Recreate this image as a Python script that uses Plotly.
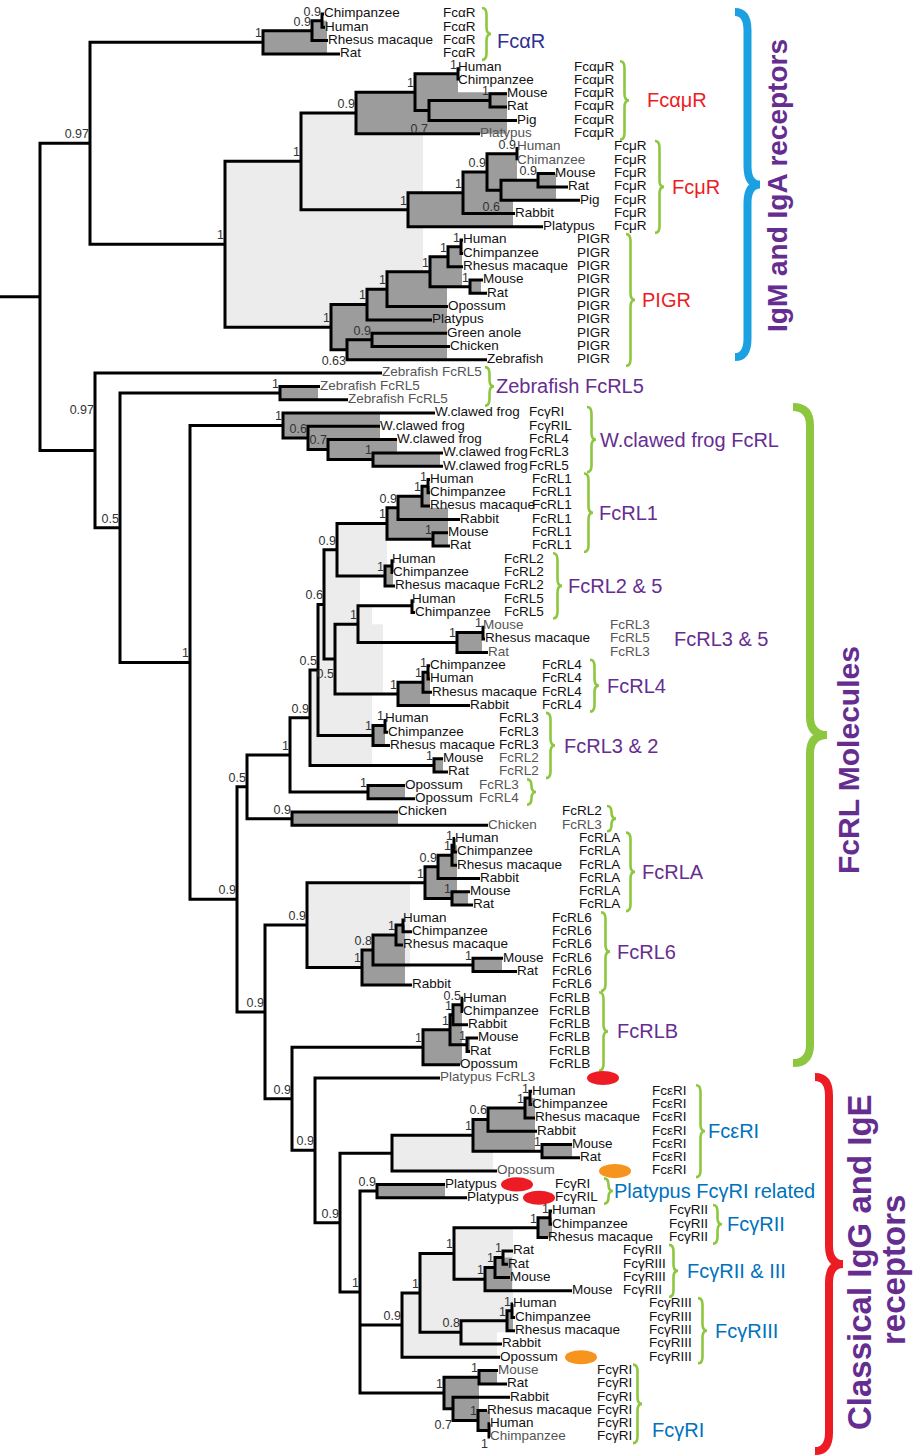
import plotly.graph_objects as go

# ---------------- DATA ----------------
leaf_species = [
    "Chimpanzee", "Human", "Rhesus macaque", "Rat",
    "Human", "Chimpanzee", "Mouse", "Rat", "Pig", "Platypus",
    "Human", "Chimanzee", "Mouse", "Rat", "Pig", "Rabbit", "Platypus",
    "Human", "Chimpanzee", "Rhesus macaque", "Mouse", "Rat", "Opossum", "Platypus", "Green anole", "Chicken", "Zebrafish",
    "Zebrafish FcRL5", "Zebrafish FcRL5", "Zebrafish FcRL5",
    "W.clawed frog", "W.clawed frog", "W.clawed frog", "W.clawed frog", "W.clawed frog",
    "Human", "Chimpanzee", "Rhesus macaque", "Rabbit", "Mouse", "Rat",
    "Human", "Chimpanzee", "Rhesus macaque", "Human", "Chimpanzee",
    "Mouse", "Rhesus macaque", "Rat",
    "Chimpanzee", "Human", "Rhesus macaque", "Rabbit",
    "Human", "Chimpanzee", "Rhesus macaque", "Mouse", "Rat",
    "Opossum", "Opossum",
    "Chicken", "Chicken",
    "Human", "Chimpanzee", "Rhesus macaque", "Rabbit", "Mouse", "Rat",
    "Human", "Chimpanzee", "Rhesus macaque", "Mouse", "Rat", "Rabbit",
    "Human", "Chimpanzee", "Rabbit", "Mouse", "Rat", "Opossum",
    "Platypus FcRL3",
    "Human", "Chimpanzee", "Rhesus macaque", "Rabbit", "Mouse", "Rat", "Opossum",
    "Platypus", "Platypus",
    "Human", "Chimpanzee", "Rhesus macaque",
    "Rat", "Rat", "Mouse", "Mouse",
    "Human", "Chimpanzee", "Rhesus macaque", "Rabbit", "Opossum",
    "Mouse", "Rat", "Rabbit", "Rhesus macaque", "Human", "Chimpanzee",
]
leaf_gene = (
    ["FcαR"] * 4 + ["FcαμR"] * 6 + ["FcμR"] * 7 + ["PIGR"] * 10 + [""] * 3 +
    ["FcγRI", "FcγRIL", "FcRL4", "FcRL3", "FcRL5"] + ["FcRL1"] * 6 +
    ["FcRL2"] * 3 + ["FcRL5"] * 2 + ["FcRL3", "FcRL5", "FcRL3"] + ["FcRL4"] * 4 +
    ["FcRL3"] * 3 + ["FcRL2"] * 2 + ["FcRL3", "FcRL4"] + ["FcRL2", "FcRL3"] +
    ["FcRLA"] * 6 + ["FcRL6"] * 6 + ["FcRLB"] * 6 + [""] + ["FcεRI"] * 7 +
    ["FcγRI", "FcγRIL"] + ["FcγRII"] * 3 + ["FcγRII", "FcγRIII", "FcγRIII", "FcγRII"] +
    ["FcγRIII"] * 5 + ["FcγRI"] * 6
)
# tip depth of each leaf (branch end)
leaf_tip = [
    324, 325, 328, 340,
    458, 458, 507, 507, 517, 480,
    517, 517, 555, 568, 580, 515, 543,
    463, 463, 463, 483, 487, 448, 432, 447, 450, 487,
    382, 320, 348,
    435, 380, 397, 443, 443,
    430, 430, 430, 460, 448, 450,
    392, 393, 395, 412, 415,
    483, 485, 488,
    430, 430, 432, 470,
    385, 388, 390, 443, 448,
    405, 415,
    398, 488,
    455, 457, 457, 480, 470, 473,
    403, 412, 403, 503, 517, 412,
    463, 463, 468, 478, 470, 460,
    440,
    532, 532, 535, 537, 572, 580, 497,
    445, 467,
    552, 552, 548,
    513, 508, 510, 572,
    513, 515, 515, 502, 500,
    498, 507, 510, 487, 490, 490,
]
leaf_parent = [
    "a3", "a3", "a2", "a1",
    "c3", "c3", "c5", "c5", "c4", "c1",
    "d4", "d4", "d6", "d6", "d5", "d2", "d1",
    "p7", "p7", "p5", "p6", "p6", "p3", "p2", "p9", "p9", "p8",
    "L", "z1", "z1",
    "w1", "w2", "w3", "w4", "w4",
    "f4", "f4", "f3", "f2", "f5", "f5",
    "q2", "q2", "q1", "q3", "q3",
    "r2", "r2", "r1",
    "s3", "s3", "s2", "s1",
    "t2", "t2", "t1", "t3", "t3",
    "o1", "o1",
    "k1", "k1",
    "m3", "m3", "m2", "m1", "m4", "m4",
    "e3", "e3", "e2", "e4", "e4", "e1",
    "g4", "g4", "g3", "g5", "g5", "g1",
    "S3",
    "h3", "h3", "h2", "h1", "h4", "h4", "hx",
    "pp", "pp",
    "j2", "j2", "j1",
    "i3", "i3", "i2", "i1",
    "l3", "l3", "l2", "l1", "l00",
    "x1", "x1", "x3", "x4", "x5", "x5",
]

node_name = ["R", "U", "a1", "a2", "a3", "b1", "b2", "c1", "c2", "c3", "c4", "c5",
             "d1", "d2", "d3", "d4", "d5", "d6",
             "p1", "p2", "p3", "p4", "p5", "p7", "p6", "p8", "p9",
             "L", "M", "z1", "N", "w1", "w2", "w3", "w4",
             "P", "v1", "u1", "H", "G", "I", "J", "f1", "f2", "f3", "f4", "f5",
             "q1", "q2", "K", "q4", "q3", "r1", "r2", "s1", "s2", "s3",
             "t1", "t2", "t3", "o1", "k1",
             "S", "n1", "m0", "m1", "m2", "m3", "m4", "e1", "e1b", "e2", "e3", "e4",
             "S2", "g1", "g2", "g3", "g4", "g5",
             "S3", "S4", "hx", "h0", "h1", "h2", "h3", "h4",
             "S5", "pp", "l00", "l0", "jj", "j1", "j2", "i1", "i2", "i3",
             "l1", "l2", "l3", "x2", "x1", "x3", "x4", "x5"]
node_parent = ["", "R", "U", "a1", "a2", "U", "b1", "b2", "c1", "c2", "c2", "c4",
               "b2", "d1", "d2", "d3", "d3", "d5",
               "b1", "p1", "p2", "p3", "p4", "p5", "p4", "p1", "p8",
               "R", "L", "M", "M", "N", "w1", "w2", "w3",
               "N", "P", "v1", "u1", "H", "G", "I", "J", "f1", "f2", "f3", "f1",
               "J", "q1", "I", "K", "q4", "q4", "r1", "K", "s1", "s2",
               "G", "t1", "H", "u1", "v1",
               "P", "S", "n1", "m0", "m1", "m2", "m0", "n1", "e1", "e1b", "e2", "e1b",
               "S", "S2", "g1", "g2", "g3", "g2",
               "S2", "S3", "S4", "hx", "h0", "h1", "h2", "h0",
               "S4", "S5", "S5", "l00", "l0", "jj", "j1", "jj", "i1", "i2",
               "l0", "l1", "l2", "S5", "x2", "x2", "x3", "x4"]
node_x = [40, 90, 263, 312, 322, 225, 301, 356, 415, 458, 429, 490,
          408, 463, 487, 517, 501, 538,
          331, 367, 387, 430, 448, 461, 470, 347, 372,
          95, 120, 280, 190, 283, 308, 328, 373,
          237, 247, 290, 310, 318, 324, 337, 387, 398, 422, 428, 433,
          385, 392, 335, 358, 412, 457, 483, 398, 423, 428,
          373, 385, 434, 368, 292,
          265, 307, 425, 438, 452, 454, 452, 362, 373, 396, 403, 473,
          292, 423, 450, 453, 462, 467,
          315, 340, 392, 473, 488, 525, 530, 542,
          360, 377, 402, 420, 454, 538, 550, 485, 495, 503,
          461, 507, 512, 444, 479, 453, 478, 489]
node_support = ["", "0.97", "1", "0.9", "0.9", "1", "1", "0.9", "1", "1", "0.7", "1",
                "1", "1", "0.9", "0.9", "0.6", "0.9",
                "1", "1", "1", "1", "1", "1", "1", "0.63", "0.9",
                "0.97", "0.5", "1", "1", "1", "0.6", "0.7", "1",
                "0.9", "0.5", "1", "0.9", "0.5", "0.6", "0.9", "1", "0.9", "1", "1", "1",
                "1", "", "0.5", "1", "", "1", "1", "1", "1", "1",
                "1", "1", "1", "1", "0.9",
                "0.9", "0.9", "1", "0.9", "1", "1", "1", "1", "0.8", "1", "", "1",
                "0.9", "1", "1", "1", "0.5", "1",
                "0.9", "0.9", "", "1", "0.6", "1", "1", "1",
                "1", "0.9", "0.9", "1", "1", "1", "1", "1", "1", "1",
                "0.8", "1", "1", "1", "1", "0.7", "1", "1"]

# shaded clades: node, right edge, tone
shade_node = ["b1", "b2", "n1", "hx", "l00", "l0", "jj", "H", "G", "I", "J", "K",
              "a1", "a2", "c1", "c2", "c4", "c5", "d1", "d2", "d3", "d5", "d6",
              "p1", "p2", "p3", "p8", "p9", "p4", "p5", "p6", "z1", "w1", "w2", "w3", "w4",
              "f1", "f2", "f3", "f5", "q1", "r1", "s1", "s2", "t1", "t3", "o1", "k1",
              "m0", "m1", "m2", "m4", "e1", "e1b", "e2", "e4", "g1", "g2", "g3", "g5",
              "h0", "h1", "h2", "h4", "pp", "j1", "i1", "i2", "l2", "x2", "x1", "x3", "x4"]
shade_right = [423, 423, 410, 493, 497, 513, 513, 372, 372, 360, 387, 383,
               327, 327, 507, 458, 507, 507, 513, 513, 517, 556, 556,
               447, 447, 447, 447, 447, 462, 462, 481, 318, 380, 380, 397, 440,
               448, 430, 430, 448, 393, 482, 430, 430, 385, 443, 405, 398,
               457, 457, 457, 468, 405, 405, 405, 502, 462, 462, 462, 470,
               535, 535, 535, 572, 445, 552, 512, 512, 513, 479, 497, 479, 490]
shade_tone = ["light"] * 12 + ["dark"] * 61

group_name = ["FcαR", "FcαμR", "FcμR", "PIGR", "Zebrafish FcRL5", "W.clawed frog FcRL", "FcRL1",
              "FcRL2 & 5", "FcRL3 & 5", "FcRL4", "FcRL3 & 2", "", "", "FcRLA", "FcRL6", "FcRLB",
              "FcεRI", "Platypus FcγRI related", "FcγRII", "FcγRII & III", "FcγRIII", "FcγRI"]
group_first = [0, 4, 10, 17, 27, 30, 35, 41, 46, 49, 53, 58, 60, 62, 68, 74, 81, 88, 90, 93, 97, 102]
group_last = [3, 9, 16, 26, 29, 34, 40, 45, 48, 52, 57, 59, 61, 67, 73, 79, 87, 89, 92, 96, 101, 107]
group_family = ["a", "m", "m", "m", "r", "r", "r", "r", "r", "r", "r", "r", "r", "r", "r", "r",
                "g", "g", "g", "g", "g", "g"]

clade_name = [["IgM and IgA receptors"], ["FcRL Molecules"], ["Classical IgG and IgE", "receptors"]]

marked_rows = [80, 87, 88, 89, 101]
marked_kind = ["red", "orange", "red", "red", "orange"]

# ---------------- LAYOUT / STYLE ----------------
ROW0, ROWH = 14.0, 13.3           # pixel position of first leaf row, row pitch


def row(px):
    return (px - ROW0) / ROWH


gene_x = [446, 577, 617, 580, None, 532, 535, 507, 613, 545, 502, 482, 565, 582, 555, 552,
          655, 558, 672, 626, 652, 600]
brace_x = [482, 620, 655, 626, 485, 587, 584, 553, None, 590, 546, 527, 607, 626, 601, 599,
           696, 604, 713, 669, 698, 633]
label_x = [495, 645, 670, 640, 494, 598, 597, 566, 672, 605, 562, None, None, 640, 615, 615,
           706, 612, 725, 685, 713, 650]
label_y_px = {0: 41, 21: 1430}
family_color = {"a": "#2e3192", "m": "#ed1c24", "r": "#662d91", "g": "#0072bc"}
gray_leaf = {9, 10, 11, 27, 28, 29, 46, 48, 61, 80, 87, 102, 107}
gray_gene = {46, 47, 48, 56, 57, 58, 59, 61}
support_dy = {"c4": 1.45, "d5": 1.3, "p8": 0.9, "K": 1.2, "x3": 1.3, "x5": 1.1, "L": -3.0}
mark_x = [603, 615, 517, 539, 581]
mark_color = {"red": "#ed1c24", "orange": "#f7941d"}
FONT = "Arial, Liberation Sans, sans-serif"
GREEN = "#8dc63f"
TXT_PAD = 3   # plotly pads text away from its anchor by about this many pixels

# large clade braces: left x, top px, bottom px, width, colour
big_brace = [(735, 12, 357, 25, "#1ba1e2"), (793, 407, 1063, 34, GREEN),
             (815, 1077, 1451, 28, "#ed1c24")]
# clade titles: per line (centre x, centre y px), font size
big_lab_pos = [[(777, 186)], [(848, 760)], [(859, 1262), (893, 1270)]]
big_lab_size = [28, 30, 33]

# ---------------- TREE GEOMETRY ----------------
xn = dict(zip(node_name, node_x))
par = dict(zip(node_name, node_parent))
children = {n: [] for n in node_name}
for i, p in enumerate(leaf_parent):
    children[p].append(("leaf", i))
for n, p in zip(node_name, node_parent):
    if p:
        children[p].append(("node", n))

ypos = {}


def item_y(it):
    kind, k = it
    if kind == "leaf":
        return float(k)
    if k not in ypos:
        ys = [item_y(c) for c in children[k]]
        ypos[k] = (min(ys) + max(ys)) / 2.0
    return ypos[k]


def item_x(it):
    kind, k = it
    return leaf_tip[k] if kind == "leaf" else xn[k]


for n in node_name:
    item_y(("node", n))

lx, ly = [], []
for n in node_name:
    ch = sorted(children[n], key=item_y)
    top, bot = ch[0], ch[-1]
    lx += [item_x(top), xn[n], xn[n], item_x(bot), None]
    ly += [item_y(top), item_y(top), item_y(bot), item_y(bot), None]
    for c in ch[1:-1]:
        lx += [xn[n], item_x(c), None]
        ly += [item_y(c), item_y(c), None]
lx += [0, xn["R"], None]
ly += [ypos["R"], ypos["R"], None]

fig = go.Figure()

# shading
for tone in ["light", "dark"]:
    for n, r, t in zip(shade_node, shade_right, shade_tone):
        if t != tone:
            continue
        ys = [item_y(c) for c in children[n]]
        fig.add_shape(type="rect", xref="x", yref="y", x0=xn[n], x1=r, y0=min(ys), y1=max(ys),
                      fillcolor="#ececec" if tone == "light" else "#9c9c9c",
                      line=dict(width=0), layer="below")

fig.add_trace(go.Scatter(x=lx, y=ly, mode="lines", line=dict(color="black", width=3),
                         hoverinfo="skip"))

# support values
sx, sy, st = [], [], []
for n, s in zip(node_name, node_support):
    if not s:
        continue
    sx.append(xn[n] - 1)
    sy.append(ypos[n] + support_dy.get(n, -0.62))
    st.append(s)
fig.add_trace(go.Scatter(x=sx, y=sy, text=st, mode="text", textposition="middle left",
                         textfont=dict(family=FONT, size=12.5, color="#333333"), hoverinfo="skip"))

# leaf labels
for gray in [False, True]:
    idx = [i for i in range(len(leaf_species)) if (i in gray_leaf) == gray]
    fig.add_trace(go.Scatter(x=[leaf_tip[i] + 3 - TXT_PAD for i in idx], y=idx,
                             text=[leaf_species[i] for i in idx], mode="text",
                             textposition="middle right",
                             textfont=dict(family=FONT, size=13.5,
                                           color="#555555" if gray else "#111111"),
                             hoverinfo="skip"))

# gene labels
gx, gy, gt, gc = [], [], [], []
for g, (a, b) in enumerate(zip(group_first, group_last)):
    if gene_x[g] is None:
        continue
    for i in range(a, b + 1):
        if leaf_gene[i]:
            gx.append(gene_x[g] - TXT_PAD); gy.append(i); gt.append(leaf_gene[i])
            gc.append("#555555" if i in gray_gene else "#111111")
fig.add_trace(go.Scatter(x=gx, y=gy, text=gt, mode="text", textposition="middle right",
                         textfont=dict(family=FONT, size=13.5, color=gc), hoverinfo="skip"))


def brace_path(x, y0, y1, w, r):
    ym = (y0 + y1) / 2.0
    xm = x + w / 2.0
    return (f"M{x},{y0} Q{xm},{y0} {xm},{y0 + r} L{xm},{ym - r} Q{xm},{ym} {x + w},{ym} "
            f"Q{xm},{ym} {xm},{ym + r} L{xm},{y1 - r} Q{xm},{y1} {x},{y1}")


# small braces and group labels
for g, (a, b) in enumerate(zip(group_first, group_last)):
    y0, y1 = a - 0.45, b + 0.45
    if brace_x[g] is not None:
        r = min(0.5, (y1 - y0) / 4.0)
        fig.add_shape(type="path", xref="x", yref="y", path=brace_path(brace_x[g], y0, y1, 9, r),
                      line=dict(color=GREEN, width=2.6))
    if group_name[g] and label_x[g] is not None:
        yc = row(label_y_px[g]) if g in label_y_px else (a + b) / 2.0
        fig.add_annotation(x=label_x[g], y=yc, xref="x", yref="y", text=group_name[g],
                           showarrow=False, xanchor="left", yanchor="middle",
                           font=dict(family=FONT, size=20, color=family_color[group_family[g]]))

# large braces
for x, top, bot, w, col in big_brace:
    fig.add_shape(type="path", xref="x", yref="y", path=brace_path(x, row(top), row(bot), w, 1.4),
                  line=dict(color=col, width=8))

for lines, pos, size in zip(clade_name, big_lab_pos, big_lab_size):
    for t, (x, ypx) in zip(lines, pos):
        fig.add_annotation(x=x, y=row(ypx), xref="x", yref="y", text=f"<b>{t}</b>",
                           showarrow=False, textangle=-90, xanchor="center", yanchor="middle",
                           font=dict(family=FONT, size=size, color="#662d91"))

# marker ellipses
for r_, k, x in zip(marked_rows, marked_kind, mark_x):
    fig.add_shape(type="circle", xref="x", yref="y", x0=x - 16, x1=x + 16,
                  y0=r_ - 0.53, y1=r_ + 0.53, fillcolor=mark_color[k], line=dict(width=0))

fig.update_layout(width=918, height=1455, margin=dict(l=0, r=0, t=0, b=0),
                  paper_bgcolor="white", plot_bgcolor="white", showlegend=False,
                  xaxis=dict(visible=False, range=[0, 918], fixedrange=True),
                  yaxis=dict(visible=False, range=[row(1455), row(0)], fixedrange=True))
fig.write_html("out.html", config={"displayModeBar": False},
               post_script="document.body.style.margin='0';document.body.style.overflow='hidden';")
